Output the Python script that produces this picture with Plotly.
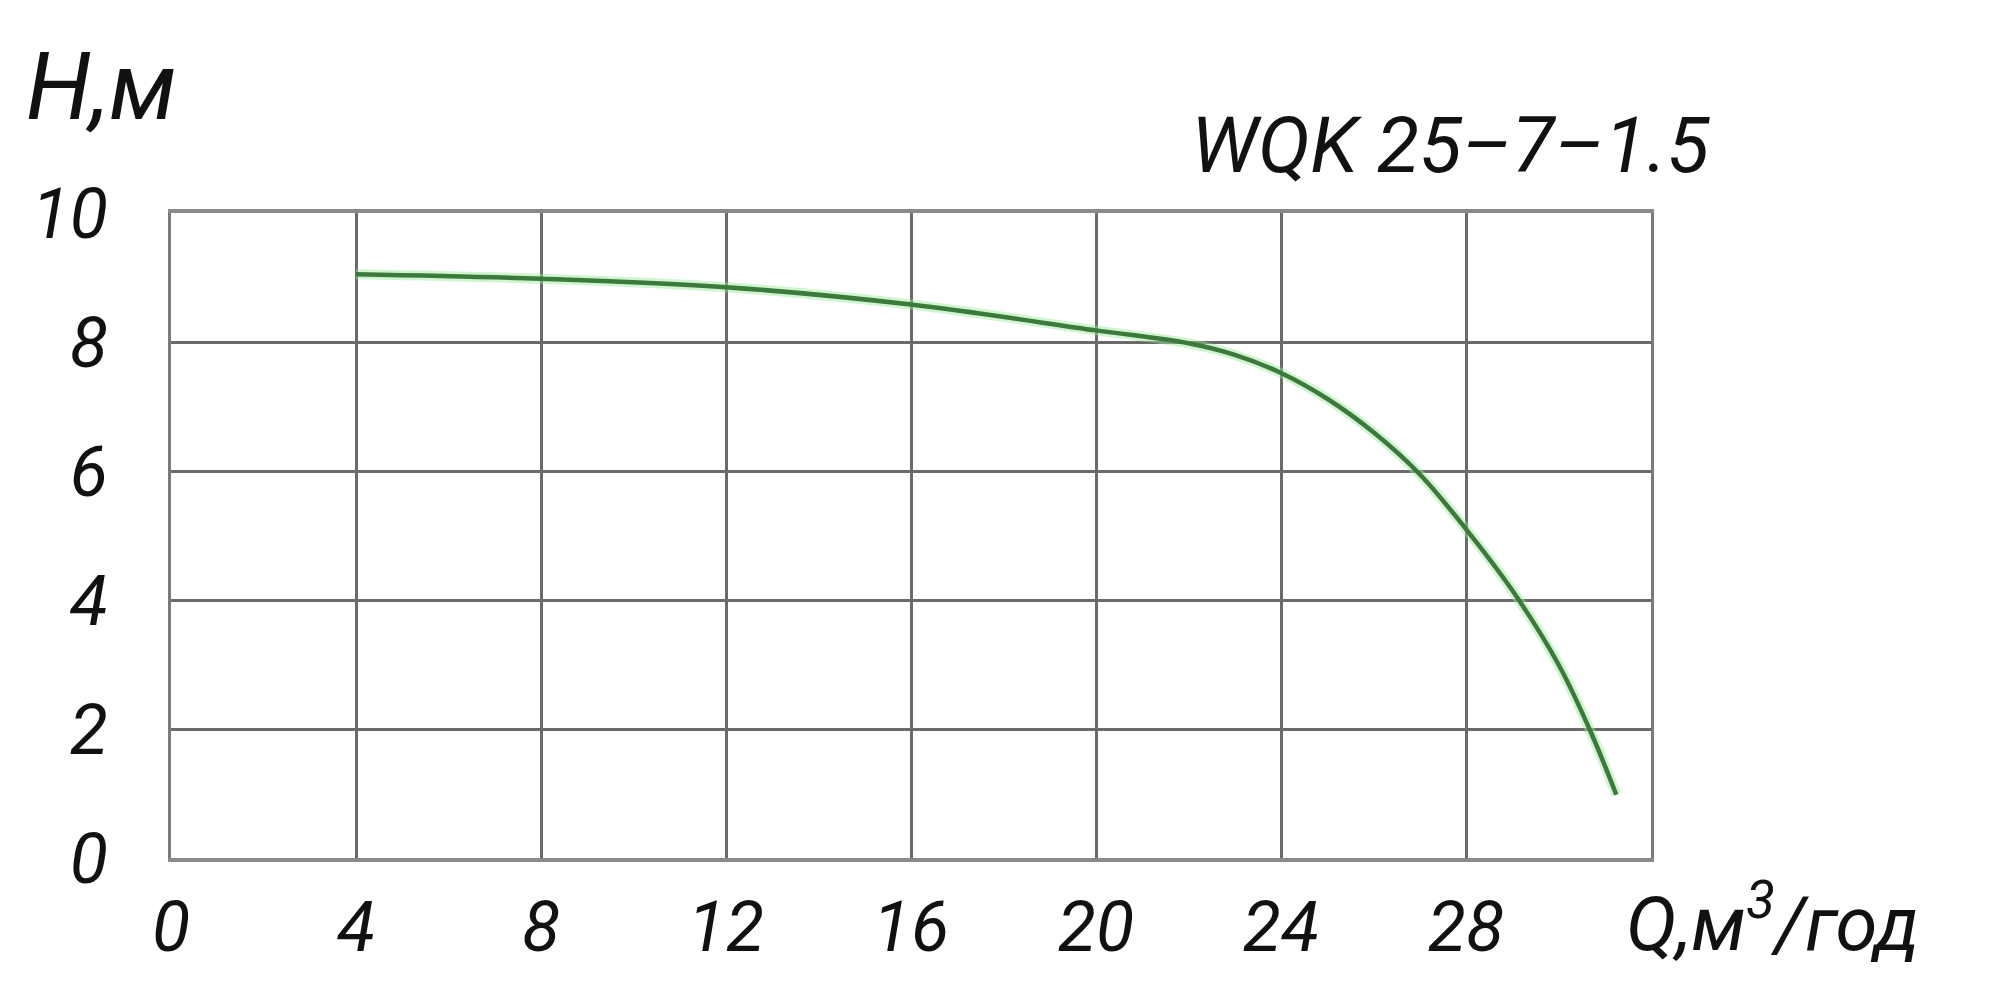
import plotly.graph_objects as go

# Data
flow_q = [4, 8, 12, 16, 20, 22, 23, 24, 25, 26, 27, 28, 29, 30, 30.7, 31.25]
head_h = [9.05, 8.98, 8.85, 8.58, 8.18, 7.98, 7.8, 7.52, 7.12, 6.6, 5.95, 5.1, 4.15, 3.0, 1.95, 0.98]

x_tickvals = [0, 4, 8, 12, 16, 20, 24, 28]
x_ticktext = ["0", "4", "8", "12", "16", "20", "24", "28"]
y_tickvals = [0, 2, 4, 6, 8, 10]
y_ticktext = ["0", "2", "4", "6", "8", "10"]

title_text = "WQK 25–7–1.5"
y_label = "H,м"
x_label = "Q,м<sup>3</sup>/год"

FONT = "Roboto, DejaVu Sans, sans-serif"

fig = go.Figure()
# soft glow under the curve
fig.add_trace(go.Scatter(x=flow_q, y=head_h, mode="lines",
                         line=dict(color="rgba(150,230,150,0.45)", width=10, shape="spline", smoothing=1.0),
                         hoverinfo="skip", showlegend=False))
fig.add_trace(go.Scatter(x=flow_q, y=head_h, mode="lines",
                         line=dict(color="#3b7a3b", width=4.5, shape="spline", smoothing=1.0),
                         showlegend=False))

fig.update_layout(
    width=1992, height=1000,
    paper_bgcolor="white", plot_bgcolor="white",
    margin=dict(l=163, r=349, t=205, b=150),
    font=dict(family=FONT, color="#111111", style="italic"),
    showlegend=False,
)

fig.update_xaxes(range=[0, 32], tickvals=x_tickvals, ticktext=x_ticktext,
                 showgrid=True, gridcolor="#6a6a6a", gridwidth=2.5,
                 showline=True, linecolor="#8a8a8a", linewidth=4, mirror=True,
                 zeroline=False, ticks="outside", ticklen=5, tickcolor="rgba(0,0,0,0)",
                 tickfont=dict(family=FONT, size=70, color="#111111", style="italic"))
fig.update_yaxes(range=[0, 10], tickvals=y_tickvals, ticktext=y_ticktext,
                 showgrid=True, gridcolor="#6a6a6a", gridwidth=2.5,
                 showline=True, linecolor="#7a7a7a", linewidth=3, mirror=True,
                 zeroline=False, ticks="outside", ticklen=46, tickcolor="rgba(0,0,0,0)",
                 tickfont=dict(family=FONT, size=70, color="#111111", style="italic"))

fig.add_annotation(text=title_text, xref="paper", yref="paper", x=0.865, y=1.104,
                   xanchor="center", yanchor="middle", showarrow=False,
                   font=dict(family=FONT, size=78, color="#111111", style="italic"))
fig.add_annotation(text=y_label, xref="paper", yref="paper", x=-0.099, y=1.195,
                   xanchor="left", yanchor="middle", showarrow=False,
                   font=dict(family=FONT, size=94, color="#111111", style="italic"))
fig.add_annotation(text=x_label, xref="paper", yref="paper", x=0.982, y=-0.095,
                   xanchor="left", yanchor="middle", showarrow=False,
                   font=dict(family=FONT, size=76, color="#111111", style="italic"))

fig.write_html("out.html")
